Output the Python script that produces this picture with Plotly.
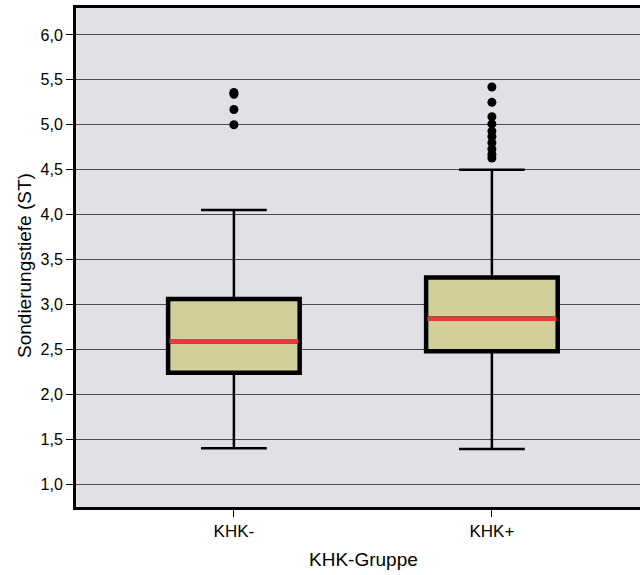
import plotly.graph_objects as go

categories = ["KHK-", "KHK+"]
positions = [0, 1]
q1 = [2.24, 2.48]
median = [2.59, 2.84]
q3 = [3.06, 3.30]
lower_whisker = [1.40, 1.39]
upper_whisker = [4.05, 4.50]
outliers = [
    [5.36, 5.34, 5.17, 5.00],
    [5.42, 5.25, 5.09, 5.01, 4.93, 4.87, 4.80, 4.73, 4.67, 4.63],
]
y_ticks = [1.0, 1.5, 2.0, 2.5, 3.0, 3.5, 4.0, 4.5, 5.0, 5.5, 6.0]
x_title = "KHK-Gruppe"
y_title = "Sondierungstiefe (ST)"

BOX_W = 0.51
FILL = "#d3cf9b"

fig = go.Figure()

# whiskers layer (thin)
fig.add_trace(go.Box(
    x=positions, q1=q1, median=median, q3=q3,
    lowerfence=lower_whisker, upperfence=upper_whisker,
    width=BOX_W, whiskerwidth=0.5, fillcolor=FILL,
    line=dict(color="black", width=2.5), boxpoints=False,
    showlegend=False, hoverinfo="skip",
))
# box layer (thick border)
fig.add_trace(go.Box(
    x=positions, q1=q1, median=median, q3=q3,
    lowerfence=q1, upperfence=q3,
    width=BOX_W, whiskerwidth=0, fillcolor=FILL,
    line=dict(color="black", width=4.5), boxpoints=False,
    showlegend=False, hoverinfo="skip",
))

# red median lines
for p, m in zip(positions, median):
    fig.add_trace(go.Scatter(
        x=[p - BOX_W / 2 + 0.005, p + BOX_W / 2 - 0.005], y=[m, m], mode="lines",
        line=dict(color="#e8393c", width=4.5), showlegend=False, hoverinfo="skip",
    ))

# outliers
for p, outs in zip(positions, outliers):
    fig.add_trace(go.Scatter(
        x=[p] * len(outs), y=outs, mode="markers",
        marker=dict(color="black", size=9), showlegend=False, hoverinfo="skip",
    ))

fig.update_layout(
    width=640, height=575,
    margin=dict(l=76, r=0, t=8, b=68),
    paper_bgcolor="white",
    plot_bgcolor="#e1e0e6",
    separators=",.",
    boxmode="overlay",
    font=dict(family="Liberation Sans, Arial, sans-serif", color="black", size=15),
    xaxis=dict(
        range=[-0.612, 1.574],
        tickvals=positions, ticktext=categories,
        showgrid=False, zeroline=False,
        showline=True, linecolor="black", linewidth=3, mirror=True,
        ticks="outside", ticklen=7, tickcolor="black", tickwidth=1,
        tickfont=dict(size=17),
    ),
    yaxis=dict(
        range=[0.745, 6.30],
        tickvals=y_ticks, tickformat=".1f",
        showgrid=True, gridcolor="#4a4a4a", gridwidth=1,
        zeroline=False,
        showline=True, linecolor="black", linewidth=3,
        ticks="outside", ticklen=7, tickcolor="black", tickwidth=1,
        tickfont=dict(size=16),
    ),
    annotations=[
        dict(text=x_title, xref="paper", yref="paper", x=0.5098, y=-0.106,
             xanchor="center", yanchor="middle", showarrow=False,
             font=dict(size=19)),
        dict(text=y_title, xref="paper", yref="paper", x=-0.0904, y=0.483,
             xanchor="center", yanchor="middle", showarrow=False, textangle=-90,
             font=dict(size=19)),
    ],
)

fig.write_html("out.html")
